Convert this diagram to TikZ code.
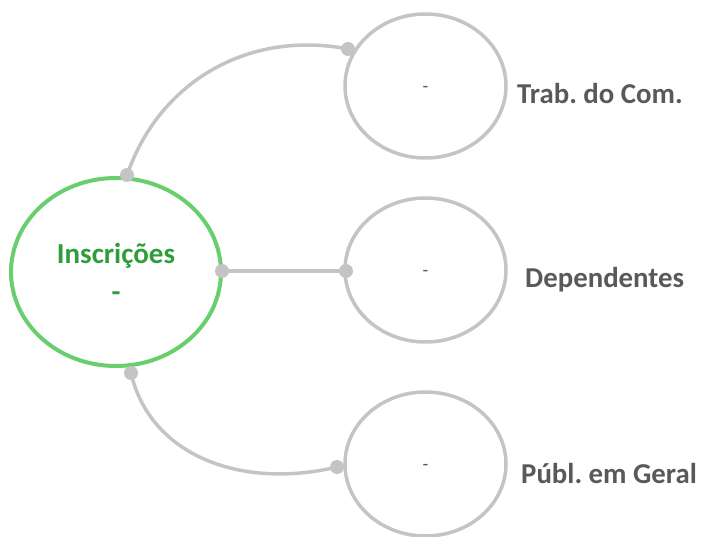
\documentclass[tikz,border=0pt]{standalone}
\usepackage{fontspec}
\setmainfont{Carlito}
\frenchspacing
\usetikzlibrary{shapes.geometric}
\definecolor{ringgreen}{RGB}{104,206,110}
\definecolor{txtgreen}{RGB}{46,158,60}
\definecolor{linegray}{RGB}{196,196,196}
\definecolor{labelgray}{RGB}{89,89,89}
\begin{document}
\begin{tikzpicture}[x=1pt,y=-1pt,
  hub/.style={ellipse, draw=ringgreen, line width=4pt, minimum width=210pt, minimum height=188pt, inner sep=0pt, text=txtgreen, font=\fontsize{29}{38}\selectfont\bfseries, align=center},
  leaf/.style={ellipse, draw=linegray, line width=3.5pt, minimum width=161pt, minimum height=144pt, inner sep=0pt, text=labelgray, font=\fontsize{19}{20}\selectfont},
  conn/.style={draw=linegray, line width=3.5pt},
  dot/.style={fill=linegray},
  lbl/.style={anchor=base west, inner sep=0pt, text=labelgray, font=\fontsize{28.8}{32}\selectfont\bfseries}]
\useasboundingbox (0,0) rectangle (702,537);
\node[hub] (ins) at (116,272) {Inscrições\\-};
\node[leaf] (trab) at (425.5,86) {\smash{\raisebox{-7pt}{-}}};
\node[leaf] (dep) at (425.5,270) {\smash{\raisebox{-7pt}{-}}};
\node[leaf] (pub) at (425.5,464) {\smash{\raisebox{-7pt}{-}}};
\node[lbl] (ltrab) at (517,104) {Trab. do Com.};
\node[lbl] (ldep) at (525,288) {Dependentes};
\node[lbl] (lpub) at (521,483) {Públ. em Geral};
\coordinate (a1) at (127,175);
\coordinate (a2) at (348,49);
\coordinate (b1) at (222,271);
\coordinate (b2) at (346,271);
\coordinate (c1) at (131,373);
\coordinate (c2) at (337,467);
\draw[conn] (a1) .. controls (160,80) and (250,30) .. (a2);
\draw[conn] (b1) -- (b2);
\draw[conn] (c1) .. controls (150,455) and (240,490) .. (c2);
\foreach \p in {a1,a2,b1,b2,c1,c2} \fill[dot] (\p) circle (7pt);
\end{tikzpicture}
\end{document}
